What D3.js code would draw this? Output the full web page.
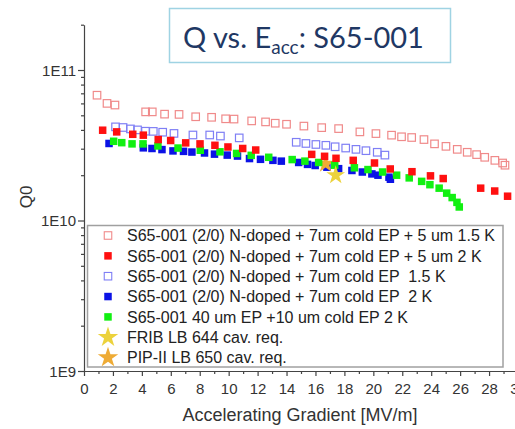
<!DOCTYPE html>
<html>
<head>
<meta charset="utf-8">
<script src="https://cdn.jsdelivr.net/npm/d3@7/dist/d3.min.js"></script>
<style>
  html, body { margin: 0; padding: 0; background: #fff; }
  svg { display: block; }
</style>
</head>
<body>
<svg id="chart" width="515" height="429"></svg>
<script>
// ---------------- DATA ----------------
// [Eacc (MV/m), Q0]
const seriesNames = [
  "S65-001 (2/0) N-doped + 7um cold EP + 5 um 1.5 K",
  "S65-001 (2/0) N-doped + 7um cold EP + 5 um 2 K",
  "S65-001 (2/0) N-doped + 7um cold EP  1.5 K",
  "S65-001 (2/0) N-doped + 7um cold EP  2 K",
  "S65-001 40 um EP +10 um cold EP 2 K",
  "FRIB LB 644 cav. req.",
  "PIP-II LB 650 cav. req."
];

const nDoped5um15K = [
  [0.9,6.8e10],[1.59,6.0e10],[2.14,5.85e10],[4.26,5.27e10],[4.72,5.27e10],[5.57,5.09e10],
  [6.57,5.07e10],[7.72,4.89e10],[8.82,4.85e10],[9.79,4.74e10],[10.37,4.72e10],[11.59,4.59e10],
  [12.55,4.52e10],[13.22,4.43e10],[14.0,4.36e10],[15.2,4.24e10],[16.43,4.14e10],[17.6,4.08e10],
  [19.07,3.88e10],[20.18,3.78e10],[21.26,3.69e10],[21.95,3.6e10],[22.65,3.56e10],[23.5,3.45e10],
  [24.23,3.23e10],[25.02,3.11e10],[25.8,2.97e10],[26.49,2.84e10],[27.14,2.74e10],[27.7,2.63e10],
  [28.4,2.51e10],[28.94,2.41e10],[29.1,2.33e10]
];

const nDoped5um2K = [
  [1.29,3.98e10],[2.26,3.88e10],[3.37,3.74e10],[4.10,3.69e10],[5.13,3.45e10],[5.99,3.40e10],
  [7.03,3.28e10],[8.02,3.23e10],[9.05,3.16e10],[9.95,3.08e10],[10.97,3.01e10],[11.87,2.94e10],
  [15.74,2.75e10],[16.63,2.67e10],[17.42,2.59e10],[18.61,2.51e10],[20.08,2.41e10],[21.17,2.20e10],
  [22.67,2.11e10],[23.95,1.98e10],[24.83,1.90e10],[27.42,1.64e10],[28.39,1.57e10],[29.28,1.45e10]
];

const nDoped15K = [
  [2.18,4.19e10],[2.70,4.15e10],[3.21,4.06e10],[3.70,4.0e10],[4.25,3.92e10],[4.79,3.91e10],
  [5.44,3.86e10],[6.22,3.79e10],[7.53,3.70e10],[8.69,3.70e10],[9.43,3.64e10],[10.73,3.54e10],
  [14.67,3.31e10],[15.34,3.25e10],[16.03,3.20e10],[16.72,3.16e10],[17.36,3.09e10],[18.09,3.03e10],
  [18.80,2.97e10],[19.49,2.91e10],[20.27,2.84e10],[20.80,2.72e10]
];

const nDoped2K = [
  [1.73,3.25e10],[4.10,3.04e10],[4.70,3.01e10],[5.39,2.96e10],[6.15,2.90e10],[6.88,2.88e10],
  [7.46,2.85e10],[8.33,2.81e10],[9.02,2.76e10],[9.90,2.72e10],[10.61,2.68e10],[11.44,2.58e10],
  [12.20,2.55e10],[13.06,2.51e10],[13.64,2.48e10],[14.84,2.43e10],[15.45,2.36e10],[15.98,2.32e10],
  [16.79,2.26e10],[17.60,2.21e10],[18.52,2.15e10],[19.24,2.10e10],[19.90,2.04e10],[20.32,2.0e10],
  [21.08,1.94e10],[21.18,1.88e10]
];

const ep40um2K = [
  [2.05,3.36e10],[2.61,3.29e10],[3.32,3.23e10],[4.08,3.23e10],[5.11,3.13e10],[6.50,3.03e10],
  [8.04,2.93e10],[9.40,2.86e10],[10.55,2.79e10],[11.56,2.71e10],[12.77,2.63e10],[14.39,2.54e10],
  [15.27,2.48e10],[16.22,2.43e10],[17.33,2.33e10],[18.69,2.24e10],[19.63,2.18e10],[20.64,2.10e10],
  [21.61,2.0e10],[22.48,1.92e10],[23.34,1.82e10],[23.91,1.73e10],[24.55,1.64e10],[25.07,1.52e10],
  [25.45,1.42e10],[25.78,1.32e10],[25.94,1.23e10]
];

const fribReq = [[17.4, 2.0e10]];
const pipReq = [[16.7, 2.38e10]];

const xTickValues = [0,2,4,6,8,10,12,14,16,18,20,22,24,26,28,30];
const xMinorTicks = [1,3,5,7,9,11,13,15,17,19,21,23,25,27,29];
const yTickValues = [1e9, 1e10, 1e11];
const yTickLabels = ["1E9", "1E10", "1E11"];

// ---------------- LAYOUT ----------------
const svg = d3.select("#chart");
const font = "'Liberation Sans', Arial, sans-serif";

const x = d3.scaleLinear().domain([0, 30]).range([84, 518]);
const y = d3.scaleLog().domain([1e9, 2e11]).range([371, 24.7]);

// Title box
svg.append("rect").attr("x", 169.5).attr("y", 8.5).attr("width", 281).attr("height", 54)
  .attr("fill", "#fff").attr("stroke", "#9fd3e3").attr("stroke-width", 1.5);
const title = svg.append("text").attr("x", 183).attr("y", 48)
  .attr("font-family", "Lato, 'Open Sans', sans-serif").attr("font-size", 29)
  .attr("fill", "#1f3864");
title.append("tspan").text("Q vs. E");
title.append("tspan").attr("font-size", 19).attr("dy", 6).text("acc");
title.append("tspan").attr("dy", -6).text(": S65-001");

// Axes
const yMinor = [];
for (let e = 9; e <= 11; e++) for (let m = 2; m <= 9; m++) { const v = m * Math.pow(10, e); if (v <= 2e11) yMinor.push(v); }

const gy = svg.append("g").attr("transform", "translate(84,0)");
gy.call(d3.axisLeft(y).tickValues(yTickValues).tickSize(6).tickSizeOuter(0)
  .tickFormat((d, i) => yTickLabels[i]));
const gyMinor = svg.append("g").attr("transform", "translate(84,0)");
gyMinor.call(d3.axisLeft(y).tickValues(yMinor).tickSize(3).tickFormat(""));
gyMinor.select(".domain").remove();

const gx = svg.append("g").attr("transform", "translate(0,371)");
gx.call(d3.axisBottom(x).tickValues(xTickValues).tickSize(5).tickSizeOuter(0).tickFormat(d3.format("d")));
const gxMinor = svg.append("g").attr("transform", "translate(0,371)");
gxMinor.call(d3.axisBottom(x).tickValues(xMinorTicks).tickSize(3).tickFormat(""));
gxMinor.select(".domain").remove();

[gx, gy, gxMinor, gyMinor].forEach(g => {
  g.selectAll("path, line").attr("stroke", "#444").attr("stroke-width", 1.2);
  g.selectAll("text").attr("font-family", font).attr("font-size", 15).attr("fill", "#333");
});
gy.selectAll("text").attr("x", -8).attr("dy", "0.36em");
gx.selectAll("text").attr("y", 12);

svg.append("text").attr("x", 300).attr("y", 421).attr("text-anchor", "middle")
  .attr("font-family", font).attr("font-size", 18).attr("fill", "#333")
  .text("Accelerating Gradient [MV/m]");
svg.append("text").attr("transform", "translate(32,197) rotate(-90)").attr("text-anchor", "middle")
  .attr("font-family", font).attr("font-size", 17).attr("fill", "#333").text("Q0");

// ---------------- MARKS ----------------
const sq = 7.5;
const star = d3.symbol().type(d3.symbolStar);

function squares(data, fill, stroke) {
  svg.append("g").selectAll("rect").data(data).join("rect")
    .attr("x", d => x(d[0]) - sq / 2).attr("y", d => y(d[1]) - sq / 2)
    .attr("width", sq).attr("height", sq)
    .attr("fill", fill).attr("stroke", stroke).attr("stroke-width", stroke === "none" ? 0 : 1.2);
}
function stars(data, color, size) {
  svg.append("g").selectAll("path").data(data).join("path")
    .attr("transform", d => `translate(${x(d[0])},${y(d[1])})`)
    .attr("d", star.size(size)()).attr("fill", color);
}

const colors = {
  openRed: "#f08a8a", red: "#ff1010", openBlue: "#7f7ff5", blue: "#0b12e6", green: "#11f011",
  frib: "#ecd23c", pip: "#eeab35"
};

squares(nDoped5um15K, "none", colors.openRed);
squares(nDoped15K, "none", colors.openBlue);
squares(nDoped2K, colors.blue, "none");
stars(pipReq, colors.pip, 110);
squares(ep40um2K, colors.green, "none");
squares(nDoped5um2K, colors.red, "none");
stars(fribReq, colors.frib, 110);

// ---------------- LEGEND ----------------
svg.append("rect").attr("x", 87.5).attr("y", 225.5).attr("width", 415.5).attr("height", 141.5)
  .attr("fill", "#fff").attr("stroke", "#a0a0a0").attr("stroke-width", 1.5);
const legendItems = [
  {type: "sq", fill: "none", stroke: colors.openRed},
  {type: "sq", fill: colors.red, stroke: "none"},
  {type: "sq", fill: "none", stroke: colors.openBlue},
  {type: "sq", fill: colors.blue, stroke: "none"},
  {type: "sq", fill: colors.green, stroke: "none"},
  {type: "star", fill: colors.frib},
  {type: "star", fill: colors.pip}
];
legendItems.forEach((it, i) => {
  const cy = 235.5 + i * 20.35;
  if (it.type === "sq") {
    svg.append("rect").attr("x", 108 - 3.75).attr("y", cy - 3.75).attr("width", 7.5).attr("height", 7.5)
      .attr("fill", it.fill).attr("stroke", it.stroke).attr("stroke-width", it.stroke === "none" ? 0 : 1.1);
  } else {
    svg.append("path").attr("transform", `translate(108,${cy})`).attr("d", star.size(130)()).attr("fill", it.fill);
  }
  svg.append("text").attr("x", 127).attr("y", cy + 5.7).attr("font-family", font).attr("font-size", 16)
    .attr("fill", "#222").attr("xml:space", "preserve").style("white-space", "pre").text(seriesNames[i]);
});
</script>
</body>
</html>
